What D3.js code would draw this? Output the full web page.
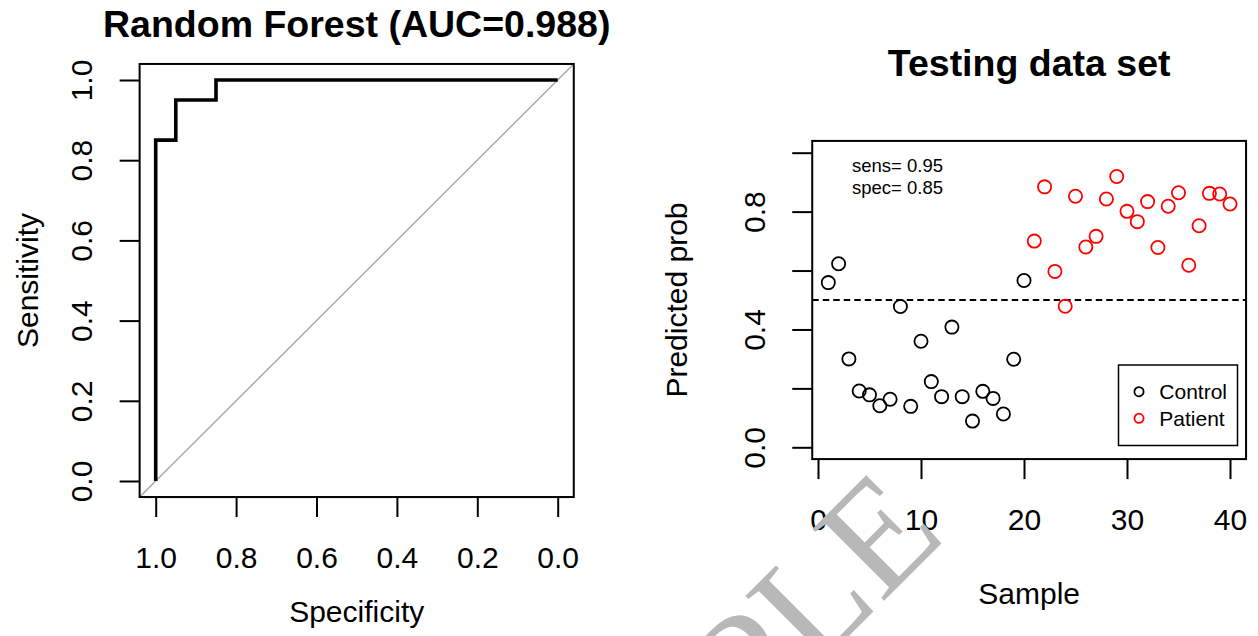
<!DOCTYPE html>
<html>
<head>
<meta charset="utf-8">
<script src="https://cdn.jsdelivr.net/npm/d3@7"></script>
<style>
  html, body { margin: 0; padding: 0; background: #fff; }
  text { font-family: "Liberation Sans", Arial, sans-serif; fill: #000; }
</style>
</head>
<body>
<script>
// ROC curve (random forest)
var rocSpec = [1, 1, 0.95, 0.95, 0.85, 0.85, 0];
var rocSens = [0, 0.85, 0.85, 0.95, 0.95, 1, 1];
var rocTicks = [1, 0.8, 0.6, 0.4, 0.2, 0];
var aucLabel = 'Random Forest (AUC=0.988)';

// testing data set
var predProb = [0.559, 0.623, 0.300, 0.191, 0.178, 0.141, 0.163, 0.478, 0.139, 0.360,
                0.223, 0.172, 0.408, 0.172, 0.089, 0.190, 0.166, 0.113, 0.299, 0.566,
                0.700, 0.884, 0.597, 0.479, 0.852, 0.680, 0.716, 0.843, 0.919, 0.801,
                0.766, 0.834, 0.678, 0.818, 0.864, 0.618, 0.752, 0.862, 0.860, 0.826];
var groups = ['Control', 'Patient'];
var groupOf = predProb.map(function(d, i) { return i < 20 ? 'Control' : 'Patient'; });
var sampleTicks = [0, 10, 20, 30, 40];
var probTicks = [0, 0.2, 0.4, 0.6, 0.8, 1];
var probTickLabels = ['0.0', '', '0.4', '', '0.8', ''];
var cutoff = 0.5;
var statLines = ['sens= 0.95', 'spec= 0.85'];

var width = 1258, height = 636;
var svg = d3.select('body').append('svg')
    .attr('width', width)
    .attr('height', height);

var color = d3.scaleOrdinal().domain(groups).range(['#000000', '#FF0000']);
var fmt = d3.format('.1f');

function box(g, x, y, x0, x1, y0, y1) {
    g.append('rect')
        .attr('x', x(x0)).attr('y', y(y1))
        .attr('width', x(x1) - x(x0))
        .attr('height', y(y0) - y(y1))
        .attr('fill', 'none')
        .attr('stroke', '#000')
        .attr('stroke-width', 2);
}

// ---------- left: ROC ----------
var xL = d3.scaleLinear().domain([1, 0]).range([155.7, 557.7]);
var yL = d3.scaleLinear().domain([0, 1]).range([481, 80]);
var left = svg.append('g');

left.append('clipPath').attr('id', 'clipL')
    .append('rect')
    .attr('x', xL(1.04)).attr('y', yL(1.04))
    .attr('width', xL(-0.04) - xL(1.04))
    .attr('height', yL(-0.04) - yL(1.04));

left.append('line')
    .attr('clip-path', 'url(#clipL)')
    .attr('x1', xL(1.04)).attr('y1', yL(-0.04))
    .attr('x2', xL(-0.04)).attr('y2', yL(1.04))
    .attr('stroke', '#a6a6a6')
    .attr('stroke-width', 1.4);

left.append('path')
    .datum(d3.range(rocSpec.length))
    .attr('d', d3.line()
        .x(function(i) { return xL(rocSpec[i]); })
        .y(function(i) { return yL(rocSens[i]); }))
    .attr('fill', 'none')
    .attr('stroke', '#000')
    .attr('stroke-width', 3.6);

box(left, xL, yL, 1.04, -0.04, -0.04, 1.04);

var axBL = left.append('g')
    .attr('transform', 'translate(0,' + yL(-0.04) + ')')
    .call(d3.axisBottom(xL).tickValues(rocTicks).tickFormat(fmt).tickSize(20).tickPadding(30));
var axLL = left.append('g')
    .attr('transform', 'translate(' + xL(1.04) + ',0)')
    .call(d3.axisLeft(yL).tickValues(rocTicks).tickFormat(fmt).tickSize(20));

left.append('text')
    .attr('x', (xL(1.04) + xL(-0.04)) / 2).attr('y', 37)
    .attr('text-anchor', 'middle')
    .style('font-size', '37.5px').style('font-weight', 'bold')
    .text(aucLabel);
left.append('text')
    .attr('x', (xL(1.04) + xL(-0.04)) / 2).attr('y', 622)
    .attr('text-anchor', 'middle')
    .style('font-size', '30px')
    .text('Specificity');
left.append('text')
    .attr('transform', 'translate(38,' + yL(0.5) + ') rotate(-90)')
    .attr('text-anchor', 'middle')
    .style('font-size', '30px')
    .text('Sensitivity');

// ---------- right: predicted probabilities ----------
var xR = d3.scaleLinear().domain([0, 40]).range([818, 1230]);
var yR = d3.scaleLinear().domain([0, 1]).range([447.3, 152.7]);
var right = svg.append('g');

right.append('line')
    .attr('x1', xR(-0.56)).attr('x2', xR(41.56))
    .attr('y1', yR(cutoff)).attr('y2', yR(cutoff))
    .attr('stroke', '#000')
    .attr('stroke-width', 2)
    .attr('stroke-dasharray', '6.5,4');

right.selectAll('.pt')
    .data(predProb)
    .enter()
    .append('circle')
    .attr('class', 'pt')
    .attr('cx', function(d, i) { return xR(i + 1); })
    .attr('cy', function(d) { return yR(d); })
    .attr('r', 6.6)
    .attr('fill', 'none')
    .attr('stroke', function(d, i) { return color(groupOf[i]); })
    .attr('stroke-width', 1.8);

box(right, xR, yR, -0.56, 41.56, -0.04, 1.04);

var axBR = right.append('g')
    .attr('transform', 'translate(0,' + yR(-0.04) + ')')
    .call(d3.axisBottom(xR).tickValues(sampleTicks).tickFormat(d3.format('d')).tickSize(20).tickPadding(30));
var axLR = right.append('g')
    .attr('transform', 'translate(' + xR(-0.56) + ',0)')
    .call(d3.axisLeft(yR).tickValues(probTicks)
        .tickFormat(function(d, i) { return probTickLabels[i]; }).tickSize(20));

right.append('text')
    .attr('x', (xR(-0.56) + xR(41.56)) / 2).attr('y', 76)
    .attr('text-anchor', 'middle')
    .style('font-size', '37.5px').style('font-weight', 'bold')
    .text('Testing data set');
right.append('text')
    .attr('x', (xR(-0.56) + xR(41.56)) / 2).attr('y', 604)
    .attr('text-anchor', 'middle')
    .style('font-size', '30px')
    .text('Sample');
right.append('text')
    .attr('transform', 'translate(687,' + yR(0.5) + ') rotate(-90)')
    .attr('text-anchor', 'middle')
    .style('font-size', '30px')
    .text('Predicted prob');

right.selectAll('.stat')
    .data(statLines)
    .enter()
    .append('text')
    .attr('class', 'stat')
    .attr('x', 852)
    .attr('y', function(d, i) { return 171.5 + i * 22.5; })
    .style('font-size', '18.5px')
    .text(function(d) { return d; });

// legend
var lg = right.append('g').attr('transform', 'translate(1118.5,365)');
lg.append('rect')
    .attr('width', 119).attr('height', 80.5)
    .attr('fill', '#fff')
    .attr('stroke', '#000')
    .attr('stroke-width', 1.5);
var item = lg.selectAll('.item')
    .data(groups)
    .enter()
    .append('g')
    .attr('class', 'item')
    .attr('transform', function(d, i) { return 'translate(0,' + (26.7 + i * 26.6) + ')'; });
item.append('circle')
    .attr('cx', 20.5).attr('r', 4.6)
    .attr('fill', 'none')
    .attr('stroke', function(d) { return color(d); })
    .attr('stroke-width', 1.8);
item.append('text')
    .attr('x', 40.8).attr('y', 7.5)
    .style('font-size', '21px')
    .text(function(d) { return d; });

// axis styling like base R
[axBL, axLL, axBR, axLR].forEach(function(ax) {
    ax.select('.domain').remove();
    ax.selectAll('.tick line').attr('stroke', '#000').attr('stroke-width', 2);
    ax.selectAll('.tick text')
        .style('font-size', '30px')
        .style('font-family', '"Liberation Sans", Arial, sans-serif')
        .attr('fill', '#000');
});
[axLL, axLR].forEach(function(ax) {
    ax.selectAll('.tick text')
        .attr('x', null).attr('dy', null)
        .attr('text-anchor', 'middle')
        .attr('transform', 'translate(-47.5,0) rotate(-90)');
});

// watermark
svg.append('text')
    .attr('transform', 'translate(948,537) rotate(-45)')
    .attr('text-anchor', 'end')
    .style('font-family', '"Liberation Serif", "Times New Roman", serif')
    .style('font-size', '155px')
    .style('fill', '#b8b8b8')
    .text('SAMPLE');
</script>
</body>
</html>
